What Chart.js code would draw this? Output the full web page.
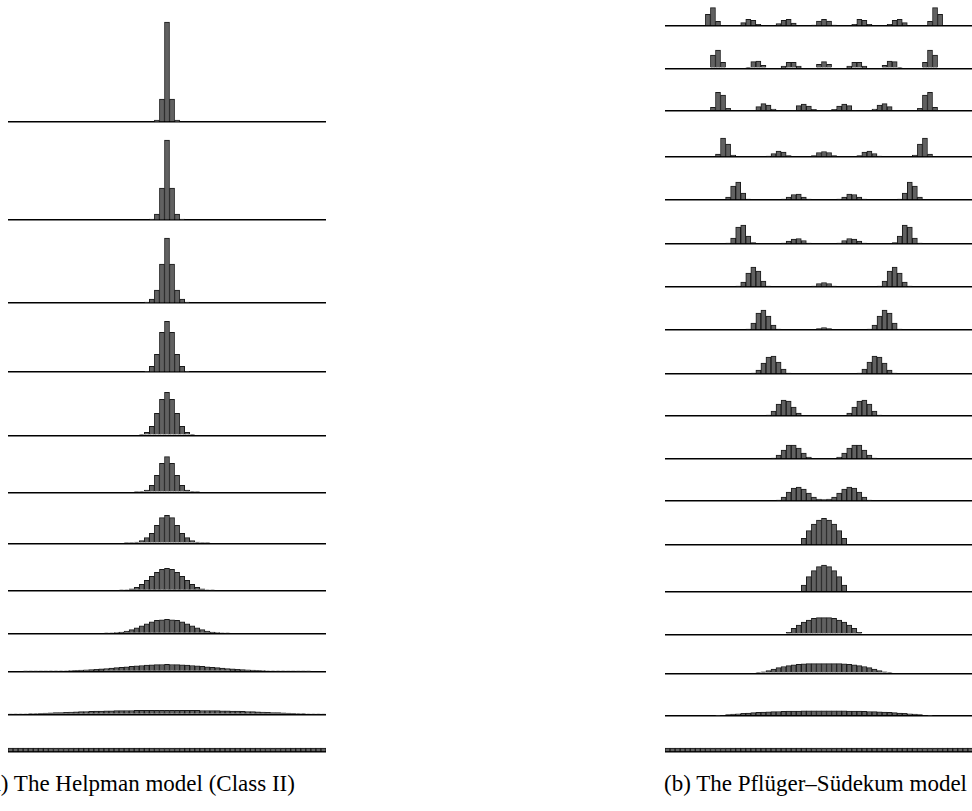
<!DOCTYPE html>
<html>
<head>
<meta charset="utf-8">
<script src="https://cdn.jsdelivr.net/npm/chart.js@4.4.1/dist/chart.umd.min.js"></script>
<style>
html, body { margin: 0; padding: 0; background: #fff; width: 972px; height: 811px; overflow: hidden; }
.panel { position: absolute; top: 0; width: 318px; height: 755px; }
.cap { position: absolute; top: 772px; font-family: "Liberation Serif", serif; font-size: 23px; line-height: 23px; white-space: nowrap; color: #000; }
</style>
</head>
<body>
<div class="panel" style="left:8px"><canvas id="helpman"></canvas></div>
<div class="panel" style="left:665px"><canvas id="pflueger"></canvas></div>
<div class="cap" style="left:-17px">(a) The Helpman model (Class II)</div>
<div class="cap" style="left:664px">(b) The Pflüger–Südekum model (Class I)</div>
<script>
// 63 regions on the line, population share per region (arbitrary units)
const NBINS = 63;
const regions = Array.from({ length: NBINS }, (_, i) => i + 1);

// each row: [first region index, values from there on]
const helpman1 = [29, [2, 23, 100, 23, 2]];
const helpman2 = [28, [1, 6, 32, 80, 32, 6, 1]];
const helpman3 = [27, [1, 4, 13, 39, 65, 39, 13, 4, 1]];
const helpman4 = [27, [1, 6, 18, 40, 51, 40, 18, 6, 1]];
const helpman5 = [26, [1, 3, 9, 22, 36, 43, 36, 22, 9, 3, 1]];
const helpman6 = [25, [0.3, 0.7, 2.3, 7, 17, 29, 35.7, 29, 17, 7, 2.3, 0.7, 0.3]];
const helpman7 = [23, [0.2, 0.5, 1.3, 2.7, 5.7, 10, 18, 25.7, 28, 25.7, 18, 10, 5.7, 2.7, 1.3, 0.5, 0.2]];
const helpman8 = [22, [0.3, 0.6, 1.5, 3, 6, 10, 14, 18, 21, 22, 21, 18, 14, 10, 6, 3, 1.5, 0.6, 0.3]];
const helpman9 = [19, [0.2, 0.4, 0.8, 1.4, 2.4, 3.8, 5.5, 7.5, 9.5, 11.5, 13, 13.7, 14, 13.7, 13, 11.5, 9.5, 7.5, 5.5, 3.8, 2.4, 1.4, 0.8, 0.4, 0.2]];
const helpman10 = [3, [0.05, 0.08, 0.12, 0.16, 0.22, 0.3, 0.4, 0.5, 0.65, 0.8, 1.0, 1.25, 1.5, 1.8, 2.1, 2.5, 2.9, 3.3, 3.75, 4.2,
  4.65, 5.1, 5.55, 5.95, 6.3, 6.6, 6.8, 6.95, 7, 6.95, 6.8, 6.6, 6.3, 5.95, 5.55, 5.1, 4.65,
  4.2, 3.75, 3.3, 2.9, 2.5, 2.1, 1.8, 1.5, 1.25, 1.0, 0.8, 0.65, 0.5, 0.4, 0.3, 0.22, 0.16, 0.12, 0.08, 0.05]];
const helpman11 = [0, [0.2, 0.3, 0.4, 0.6, 0.8, 1.0, 1.2, 1.4, 1.6, 1.8, 2.0, 2.2, 2.4, 2.6, 2.8, 3.0, 3.2, 3.35, 3.5, 3.6,
  3.7, 3.8, 3.9, 3.95, 4.0, 4.05, 4.1, 4.15, 4.2, 4.2, 4.2, 4.2, 4.2, 4.2, 4.2, 4.15, 4.1, 4.05, 4.0, 3.95,
  3.9, 3.8, 3.7, 3.6, 3.5, 3.35, 3.2, 3.0, 2.8, 2.6, 2.4, 2.2, 2.0, 1.8, 1.6, 1.4, 1.2, 1.0, 0.8, 0.6, 0.4, 0.3, 0.2]];
const helpman12 = [0, [3.8, 3.8, 3.8, 3.8, 3.8, 3.8, 3.8, 3.8, 3.8, 3.8, 3.8, 3.8, 3.8, 3.8, 3.8, 3.8, 3.8, 3.8, 3.8, 3.8, 3.8,
  3.8, 3.8, 3.8, 3.8, 3.8, 3.8, 3.8, 3.8, 3.8, 3.8, 3.8, 3.8, 3.8, 3.8, 3.8, 3.8, 3.8, 3.8, 3.8, 3.8, 3.8,
  3.8, 3.8, 3.8, 3.8, 3.8, 3.8, 3.8, 3.8, 3.8, 3.8, 3.8, 3.8, 3.8, 3.8, 3.8, 3.8, 3.8, 3.8, 3.8, 3.8, 3.8]];

const pflueger1 = [8, [11.7, 18.3, 4.7, 0, 0, 0, 0, 3.3, 6.7, 5.7, 1.7, 0, 0, 0, 2.3, 5.7, 6.7, 3, 0, 0, 0, 1, 5, 6.7, 5, 1,
  0, 0, 0, 1.7, 6.7, 5.7, 1.7, 0, 0, 0, 1.7, 5.7, 6.7, 3.3, 0, 0, 0, 0, 4.7, 18.3, 11.7]];
const pflueger2 = [9, [13.3, 18.3, 6, 0, 0, 0, 0, 1, 6.7, 7.3, 3, 0, 0, 0, 2.3, 6, 6, 2.3, 0, 0, 0, 4, 6.7, 4,
  0, 0, 0, 2.3, 6, 6, 2.3, 0, 0, 0, 3, 7.3, 6.7, 1, 0, 0, 0, 0, 6, 18.3, 13.3]];
const pflueger3 = [9, [3.3, 18.3, 15.7, 2.3, 0, 0, 0, 0, 0, 4, 7, 5.7, 1.7, 0, 0, 0, 0.7, 5, 6.7, 4.7, 1.3, 0, 0, 0,
  1.3, 4.7, 6.7, 5, 0.7, 0, 0, 0, 1.7, 5.7, 7, 4, 0, 0, 0, 0, 0, 2.3, 15.7, 18.3, 3.3]];
const pflueger4 = [10, [3, 19, 13, 2, 0, 0, 0, 0, 0, 0, 1, 3.5, 6, 5, 1.5, 0, 0, 0, 0, 1.5, 4.5, 5.5, 4.5, 1.5,
  0, 0, 0, 0, 1.5, 5, 6, 3.5, 1, 0, 0, 0, 0, 0, 0, 2, 13, 19, 3]];
const pflueger5 = [12, [3, 14, 18, 7, 1, 0, 0, 0, 0, 0, 0, 1, 3, 5.5, 6, 3, 1, 0, 0, 0, 0, 0,
  1, 3, 6, 5.5, 3, 1, 0, 0, 0, 0, 0, 0, 1, 7, 18, 14, 3]];
const pflueger6 = [12, [1, 6, 17, 19, 8, 1.5, 0, 0, 0, 0, 0, 1, 3, 5, 5.5, 3.5, 1, 0, 0, 0, 0, 0,
  1, 3.5, 5.5, 5, 3, 1, 0, 0, 0, 0, 0, 1.5, 8, 19, 17, 6, 1]];
const pflueger7 = [14, [1, 5, 14, 20, 16, 6, 1, 0, 0, 0, 0, 0, 0, 0, 0, 1, 3.5, 4.5, 3.5, 1,
  0, 0, 0, 0, 0, 0, 0, 0, 1, 6, 16, 20, 14, 5, 1]];
const pflueger8 = [16, [1, 7, 17, 20, 14, 5, 1, 0, 0, 0, 0, 0, 0, 0, 1.5, 2.5, 1.5, 0, 0, 0, 0, 0, 0, 0, 1, 5, 14, 20, 17, 7, 1]];
const pflueger9 = [17, [1, 4, 11, 17, 18, 12, 5, 1, 0, 0, 0, 0, 0, 0, 0, 0, 0, 0, 0, 0, 0, 1, 5, 12, 18, 17, 11, 4, 1]];
const pflueger10 = [20, [1, 5, 12, 16, 15, 9, 3, 0, 0, 0, 0, 0, 0, 0, 0, 0, 3, 9, 15, 16, 12, 5, 1]];
const pflueger11 = [21, [1, 4, 9, 14, 14, 11, 6, 2, 0, 0, 0, 0, 0, 2, 6, 11, 14, 14, 9, 4, 1]];
const pflueger12 = [22, [1, 4, 9, 13, 14, 12, 8, 4, 2, 1.5, 2, 4, 8, 12, 14, 13, 9, 4, 1]];
const pflueger13 = [27, [6.7, 14.3, 21, 25, 26.7, 25, 21, 14.3, 6.7]];
const pflueger14 = [27, [6.7, 15, 21, 25, 26.7, 25, 21, 15, 6.7]];
const pflueger15 = [24, [2, 6, 9.3, 12.3, 14.3, 16, 16.7, 16.7, 16.7, 16, 14.3, 12.3, 9.3, 6, 2]];
const pflueger16 = [18, [0.5, 1.5, 2.7, 4.2, 5.7, 6.8, 7.7, 8.4, 9, 9.4, 9.6, 9.7, 9.7, 9.7, 9.7, 9.7, 9.6, 9.4, 9, 8.4,
  7.7, 6.8, 5.7, 4.2, 2.7, 1.5, 0.5]];
const pflueger17 = [10, [0.3, 0.7, 1.1, 1.5, 1.9, 2.3, 2.7, 3.0, 3.3, 3.6, 3.8, 4.0, 4.2, 4.35, 4.5, 4.6, 4.7, 4.75, 4.8, 4.8,
  4.85, 4.85, 4.85, 4.8, 4.8, 4.75, 4.7, 4.6, 4.5, 4.35, 4.2, 4.0, 3.8, 3.6, 3.3, 3.0, 2.7, 2.3, 1.9, 1.5, 1.1, 0.7, 0.3]];
const pflueger18 = [0, [3.8, 3.8, 3.8, 3.8, 3.8, 3.8, 3.8, 3.8, 3.8, 3.8, 3.8, 3.8, 3.8, 3.8, 3.8, 3.8, 3.8, 3.8, 3.8, 3.8, 3.8,
  3.8, 3.8, 3.8, 3.8, 3.8, 3.8, 3.8, 3.8, 3.8, 3.8, 3.8, 3.8, 3.8, 3.8, 3.8, 3.8, 3.8, 3.8, 3.8, 3.8, 3.8,
  3.8, 3.8, 3.8, 3.8, 3.8, 3.8, 3.8, 3.8, 3.8, 3.8, 3.8, 3.8, 3.8, 3.8, 3.8, 3.8, 3.8, 3.8, 3.8, 3.8, 3.8]];

const helpmanRows = [helpman1, helpman2, helpman3, helpman4, helpman5, helpman6,
  helpman7, helpman8, helpman9, helpman10, helpman11, helpman12];
const pfluegerRows = [pflueger1, pflueger2, pflueger3, pflueger4, pflueger5, pflueger6,
  pflueger7, pflueger8, pflueger9, pflueger10, pflueger11, pflueger12, pflueger13,
  pflueger14, pflueger15, pflueger16, pflueger17, pflueger18];

// room (in value units) given to each row, top to bottom
const helpmanRoom = [122, 98, 83, 69, 63, 57, 51, 47, 43, 38, 43, 37.5];
const pfluegerRoom = [26, 42.3, 42.4, 46.3, 43, 44, 43, 43, 44, 42, 43, 42, 44, 46.7, 42.6, 39, 42.4, 36.3];

function expand(row) {
  const out = new Array(NBINS).fill(0);
  row[1].forEach((v, i) => { out[row[0] + i] = v; });
  return out;
}

function drawPanel(id, rows, room) {
  const scales = {
    x: { type: 'category', labels: regions, display: false }
  };
  rows.forEach((r, i) => {
    scales['y' + i] = {
      type: 'linear',
      position: 'right',
      stack: 'rows',
      stackWeight: room[i],
      weight: i,
      min: 0,
      max: room[i],
      ticks: { display: false },
      border: { display: false },
      grid: { drawTicks: false, color: '#000', lineWidth: 1.5 },
      afterBuildTicks: (s) => { s.ticks = [{ value: 0 }]; }
    };
  });
  new Chart(document.getElementById(id), {
    type: 'bar',
    data: {
      labels: regions,
      datasets: rows.map((r, i) => ({
        data: expand(r),
        yAxisID: 'y' + i,
        grouped: false,
        backgroundColor: '#616161',
        borderColor: '#1a1a1a',
        borderWidth: 1,
        borderSkipped: 'start',
        barPercentage: 1,
        categoryPercentage: 1
      }))
    },
    options: {
      responsive: true,
      maintainAspectRatio: false,
      animation: false,
      devicePixelRatio: 1,
      layout: { padding: { top: 0, bottom: 3, left: 0, right: 0 } },
      plugins: { legend: { display: false }, tooltip: { enabled: false } },
      scales: scales
    }
  });
}

drawPanel('helpman', helpmanRows, helpmanRoom);
drawPanel('pflueger', pfluegerRows, pfluegerRoom);
</script>
</body>
</html>
